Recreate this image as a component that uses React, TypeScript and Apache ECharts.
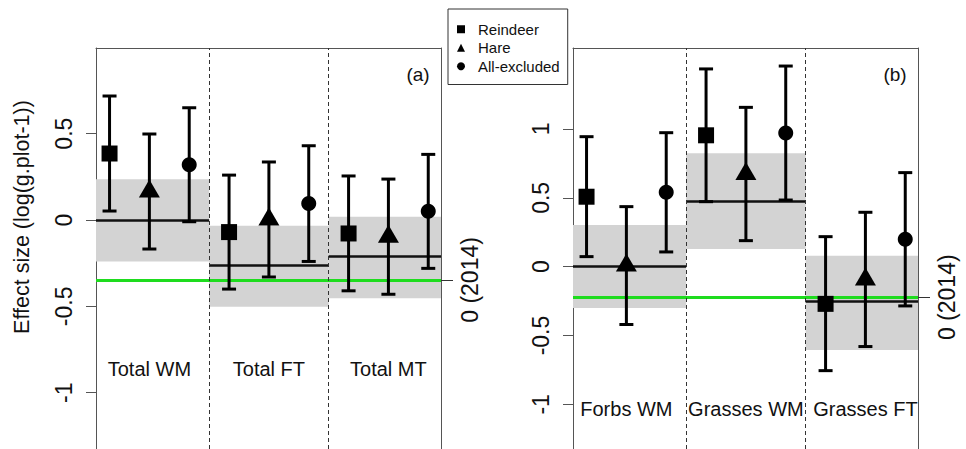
import React, { useEffect, useRef } from 'react';
import * as echarts from 'echarts';

const FONT = '"Liberation Sans", Arial, Helvetica, sans-serif';
const TEXT = '#111';

// ---------- data ----------
const seriesNames = ['Reindeer', 'Hare', 'All-excluded'];
const seriesIcons = ['rect', 'triangle', 'circle'];

const positions = [1, 2, 3, 4, 5, 6, 7, 8, 9];
const dividers = [3.5, 6.5];
const xRange = [0.66, 9.32];

// Panel (a)
const aCategories = ['Total WM', 'Total FT', 'Total MT'];
const aEffect = [0.385, 0.165, 0.32, -0.07, 0.003, 0.095, -0.078, -0.097, 0.05];
const aLower = [0.052, -0.168, -0.01, -0.4, -0.33, -0.24, -0.41, -0.43, -0.28];
const aUpper = [0.718, 0.498, 0.65, 0.26, 0.336, 0.43, 0.255, 0.237, 0.38];
const aGroupMean = [0, -0.264, -0.212];
const aBandLower = [-0.241, -0.502, -0.453];
const aBandUpper = [0.236, -0.033, 0.019];
const aBaseline2014 = -0.347;
const aYRange = [-1.326, 0.996];
const aTicks = [-1, -0.5, 0, 0.5];
const aLabelY = -0.86;

// Panel (b)
const bCategories = ['Forbs WM', 'Grasses WM', 'Grasses FT'];
const bEffect = [0.508, 0.008, 0.54, 0.954, 0.673, 0.97, -0.27, -0.093, 0.2];
const bLower = [0.073, -0.42, 0.107, 0.472, 0.189, 0.484, -0.755, -0.58, -0.285];
const bUpper = [0.944, 0.436, 0.973, 1.436, 1.157, 1.457, 0.218, 0.395, 0.683];
const bGroupMean = [0, 0.477, -0.254];
const bBandLower = [-0.3, 0.128, -0.605];
const bBandUpper = [0.303, 0.823, 0.08];
const bBaseline2014 = -0.222;
const bYRange = [-1.324, 1.588];
const bTicks = [-1, -0.5, 0, 0.5, 1];
const bLabelY = -1.03;

const symbolSizes: any[] = [16, [21, 18], 15];
const symbolOffsets: any[] = [[0, 0], [0, -3], [0, 0]];

interface PanelCfg {
  categories: string[];
  effect: number[];
  lower: number[];
  upper: number[];
  groupMean: number[];
  bandLower: number[];
  bandUpper: number[];
  baseline: number;
  yRange: number[];
  ticks: number[];
  labelY: number;
  left: number;
}

function buildPanel(i: number, cfg: PanelCfg) {
  const xi = i;
  const yi = i * 2;
  const edges = [xRange[0], ...dividers, xRange[1]];
  const grid = { left: cfg.left, top: 48, width: 345, height: 401, containLabel: false };
  const axisColor = '#555';
  const xAxis = {
    gridIndex: i,
    type: 'value',
    position: 'top',
    min: xRange[0],
    max: xRange[1],
    axisLine: { show: true, onZero: false, lineStyle: { color: axisColor, width: 1 } },
    axisTick: { show: false },
    axisLabel: { show: false },
    splitLine: { show: false },
  };
  const yLeft = {
    gridIndex: i,
    type: 'value',
    position: 'left',
    min: cfg.yRange[0],
    max: cfg.yRange[1],
    axisLine: { show: true, onZero: false, lineStyle: { color: axisColor, width: 1 } },
    axisTick: { show: true, length: 10, customValues: cfg.ticks, lineStyle: { color: axisColor, width: 1 } },
    axisLabel: {
      show: true,
      customValues: cfg.ticks,
      rotate: 90,
      margin: 21,
      fontSize: 23,
      color: TEXT,
      fontFamily: FONT,
      formatter: (v: number) => String(v),
    },
    splitLine: { show: false },
  };
  const yRight = {
    gridIndex: i,
    type: 'value',
    position: 'right',
    min: cfg.yRange[0],
    max: cfg.yRange[1],
    axisLine: { show: true, onZero: false, lineStyle: { color: axisColor, width: 1 } },
    axisTick: { show: true, length: 12, customValues: [cfg.baseline], lineStyle: { color: '#333', width: 1 } },
    axisLabel: {
      show: true,
      customValues: [cfg.baseline],
      rotate: 90,
      margin: 17,
      fontSize: 23,
      color: TEXT,
      fontFamily: FONT,
      formatter: () => '0 (2014)',
    },
    splitLine: { show: false },
  };

  const series: any[] = [];
  // grey bands
  series.push({
    type: 'line',
    xAxisIndex: xi,
    yAxisIndex: yi,
    data: [],
    silent: true,
    z: 1,
    markArea: {
      silent: true,
      itemStyle: { color: '#d3d3d3' },
      label: { show: false },
      data: cfg.bandLower.map((lo, k) => [
        { coord: [edges[k], lo] },
        { coord: [edges[k + 1], cfg.bandUpper[k]] },
      ]),
    },
  });
  // 2014 baseline (green)
  series.push({
    type: 'line',
    xAxisIndex: xi,
    yAxisIndex: yi,
    data: [],
    silent: true,
    z: 2,
    markLine: {
      silent: true,
      symbol: ['none', 'none'],
      label: { show: false },
      lineStyle: { color: '#1edc1e', width: 3, type: 'solid' },
      data: [{ yAxis: cfg.baseline }],
    },
  });
  // group means
  series.push({
    type: 'line',
    xAxisIndex: xi,
    yAxisIndex: yi,
    data: [],
    silent: true,
    z: 3,
    markLine: {
      silent: true,
      symbol: ['none', 'none'],
      label: { show: false },
      lineStyle: { color: '#111', width: 2.5, type: 'solid' },
      data: cfg.groupMean.map((m, k) => [
        { coord: [edges[k], m] },
        { coord: [edges[k + 1], m] },
      ]),
    },
  });
  // dashed dividers
  series.push({
    type: 'line',
    xAxisIndex: xi,
    yAxisIndex: yi,
    data: [],
    silent: true,
    z: 3,
    markLine: {
      silent: true,
      symbol: ['none', 'none'],
      label: { show: false },
      lineStyle: { color: '#333', width: 1, type: [4, 3] },
      data: dividers.map((d) => ({ xAxis: d })),
    },
  });
  // error bars
  series.push({
    type: 'custom',
    xAxisIndex: xi,
    yAxisIndex: yi,
    silent: true,
    z: 10,
    data: positions.map((p, k) => [p, cfg.lower[k], cfg.upper[k]]),
    encode: { x: 0, y: [1, 2] },
    renderItem: (params: any, api: any) => {
      const x = api.value(0);
      const pLo = api.coord([x, api.value(1)]);
      const pHi = api.coord([x, api.value(2)]);
      const hw = 7;
      const st = { stroke: '#000', lineWidth: 3 };
      return {
        type: 'group',
        children: [
          { type: 'line', shape: { x1: pLo[0], y1: pLo[1], x2: pHi[0], y2: pHi[1] }, style: st },
          { type: 'line', shape: { x1: pLo[0] - hw, y1: pLo[1], x2: pLo[0] + hw, y2: pLo[1] }, style: st },
          { type: 'line', shape: { x1: pHi[0] - hw, y1: pHi[1], x2: pHi[0] + hw, y2: pHi[1] }, style: st },
        ],
      };
    },
  });
  // points
  seriesNames.forEach((name, s) => {
    const data: number[][] = [];
    for (let g = 0; g < cfg.categories.length; g++) {
      const k = g * 3 + s;
      data.push([positions[k], cfg.effect[k]]);
    }
    series.push({
      type: 'scatter',
      name,
      xAxisIndex: xi,
      yAxisIndex: yi,
      symbol: seriesIcons[s],
      symbolSize: symbolSizes[s],
      symbolOffset: symbolOffsets[s],
      itemStyle: { color: '#000', opacity: 1 },
      z: 11,
      silent: true,
      data,
    });
  });
  // category labels
  series.push({
    type: 'scatter',
    xAxisIndex: xi,
    yAxisIndex: yi,
    symbolSize: 1,
    itemStyle: { color: 'rgba(0,0,0,0)', opacity: 1 },
    silent: true,
    z: 12,
    label: {
      show: true,
      position: 'inside',
      formatter: '{b}',
      fontSize: 20,
      color: TEXT,
      opacity: 1,
      fontFamily: FONT,
    },
    data: cfg.categories.map((c, g) => ({ name: c, value: [positions[g * 3 + 1], cfg.labelY] })),
  });

  return { grid, xAxis, yAxes: [yLeft, yRight], series };
}

export default function App() {
  const ref = useRef<HTMLDivElement>(null);
  useEffect(() => {
    if (!ref.current) return;
    const chart = echarts.init(ref.current, undefined, { renderer: 'svg' });
    const pa = buildPanel(0, {
      categories: aCategories,
      effect: aEffect,
      lower: aLower,
      upper: aUpper,
      groupMean: aGroupMean,
      bandLower: aBandLower,
      bandUpper: aBandUpper,
      baseline: aBaseline2014,
      yRange: aYRange,
      ticks: aTicks,
      labelY: aLabelY,
      left: 96,
    });
    const pb = buildPanel(1, {
      categories: bCategories,
      effect: bEffect,
      lower: bLower,
      upper: bUpper,
      groupMean: bGroupMean,
      bandLower: bBandLower,
      bandUpper: bBandUpper,
      baseline: bBaseline2014,
      yRange: bYRange,
      ticks: bTicks,
      labelY: bLabelY,
      left: 573,
    });
    chart.setOption({
      animation: false,
      backgroundColor: '#fff',
      grid: [pa.grid, pb.grid],
      xAxis: [pa.xAxis, pb.xAxis],
      yAxis: [...pa.yAxes, ...pb.yAxes],
      legend: {
        data: seriesNames.map((n, k) => ({ name: n, icon: seriesIcons[k] })),
        orient: 'vertical',
        left: 448,
        top: 9,
        padding: [11, 8, 9, 9],
        itemGap: 0,
        itemWidth: 8,
        itemHeight: 8,
        borderColor: '#333',
        borderWidth: 1,
        selectedMode: false,
        itemStyle: { opacity: 1 },
        textStyle: { fontSize: 15, color: TEXT, fontFamily: FONT, lineHeight: 18.5, padding: [0, 0, 0, 8] },
      },
      graphic: [
        {
          type: 'text',
          x: 22,
          y: 217,
          rotation: Math.PI / 2,
          style: {
            text: 'Effect size (log(g.plot-1))',
            fontSize: 21.5,
            fontFamily: FONT,
            fill: TEXT,
            align: 'center',
            verticalAlign: 'middle',
          },
        },
        {
          type: 'text',
          x: 418,
          y: 74,
          style: { text: '(a)', fontSize: 19, fontFamily: FONT, fill: TEXT, align: 'center', verticalAlign: 'middle' },
        },
        {
          type: 'text',
          x: 895,
          y: 74,
          style: { text: '(b)', fontSize: 19, fontFamily: FONT, fill: TEXT, align: 'center', verticalAlign: 'middle' },
        },
      ],
      series: [...pa.series, ...pb.series],
    });
    return () => chart.dispose();
  }, []);
  return (
    <div
      ref={ref}
      style={{ position: 'fixed', left: 0, top: 0, width: 966, height: 449, background: '#fff' }}
    />
  );
}
